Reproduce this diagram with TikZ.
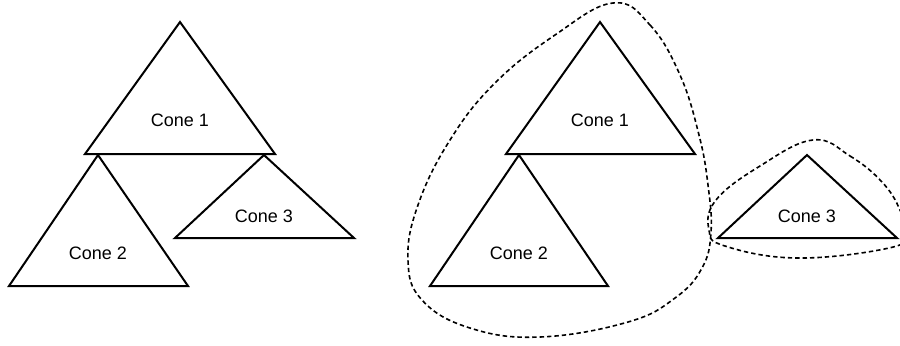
\documentclass[tikz,border=0pt]{standalone}
\usepackage{fontspec}
\setmainfont{Liberation Sans}
\begin{document}
\begin{tikzpicture}[x=0.5pt, y=-0.5pt,
    cone/.style={draw=black, line width=1pt, line join=miter},
    conelabel/.style={font=\fontsize{9}{11}\selectfont, inner sep=0pt},
    cluster/.style={draw=black, line width=0.8pt, dash pattern=on 2.2pt off 1.5pt}]
      \useasboundingbox (0,0) rectangle (900,345);
      % Cones before grouping
      \draw[cone] (180,22) -- (85,154) -- (275,154) -- cycle;
      \node[conelabel] (coneA1) at (180,120) {Cone 1};
      \draw[cone] (98,155) -- (9,286) -- (188,286) -- cycle;
      \node[conelabel] (coneA2) at (98,253) {Cone 2};
      \draw[cone] (264,155) -- (175,238) -- (354,238) -- cycle;
      \node[conelabel] (coneA3) at (264,216) {Cone 3};
      % Cones after grouping
      \draw[cone] (600,22) -- (506,154) -- (695,154) -- cycle;
      \node[conelabel] (coneB1) at (600,120) {Cone 1};
      \draw[cone] (519,155) -- (430,286) -- (608,286) -- cycle;
      \node[conelabel] (coneB2) at (519,253) {Cone 2};
      \draw[cone] (807,155) -- (718,238) -- (897,238) -- cycle;
      \node[conelabel] (coneB3) at (807,216) {Cone 3};
      % Clusters around the grouped cones
      \draw[cluster] plot[smooth cycle, tension=0.7] coordinates {
        (613,3) (650,25) (680,75) (699,135) (708,185) (711,232) (702,268)
        (675,298) (628,322) (540,337) (470,328) (422,300) (408,260) (418,205)
        (450,140) (495,83) (555,35)};
      \draw[cluster] plot[smooth cycle, tension=0.7] coordinates {
        (813,140) (850,156) (882,182) (900,210) (905,234) (889,248)
        (797,258) (725,246) (709,230) (716,200) (760,166)};
    \end{tikzpicture}
\end{document}
